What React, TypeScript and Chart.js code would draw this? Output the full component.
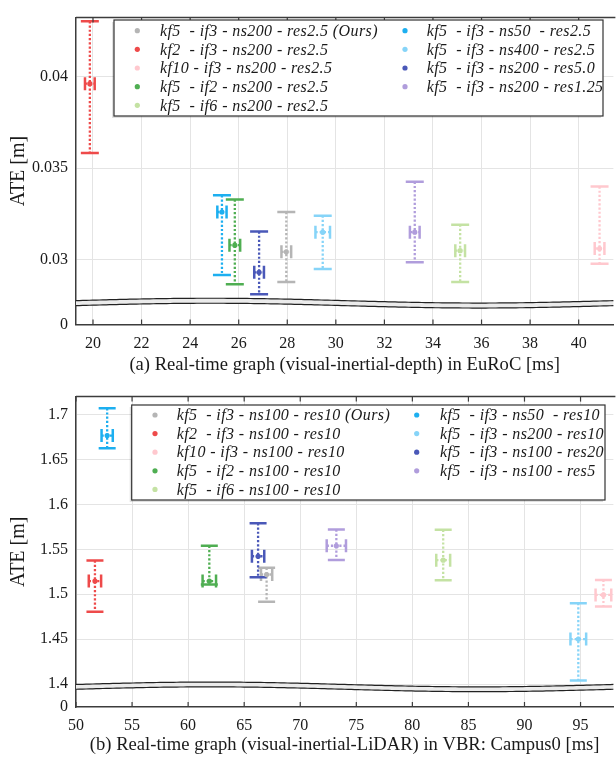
import React, { useEffect, useRef } from 'react';
import { Chart, registerables } from 'chart.js';

Chart.register(...registerables);

const SERIF = '"Liberation Serif", "Times New Roman", serif';
const GRID = '#e4e4e4';
const AXIS = '#3c3c3c';
const TEXT = '#1a1a1a';

// shared series colours (legend order)
const colors = ['#b5b5b5', '#ee4a4a', '#ffc8ce', '#4fae52', '#c4e2a3', '#1daff0', '#86d4f8', '#4a58b8', '#b09ddc'];

// ---------------- (a) EuRoC ----------------
const labelsA = [
  'kf5  - if3 - ns200 - res2.5 (Ours)',
  'kf2  - if3 - ns200 - res2.5',
  'kf10 - if3 - ns200 - res2.5',
  'kf5  - if2 - ns200 - res2.5',
  'kf5  - if6 - ns200 - res2.5',
  'kf5  - if3 - ns50  - res2.5',
  'kf5  - if3 - ns400 - res2.5',
  'kf5  - if3 - ns200 - res5.0',
  'kf5  - if3 - ns200 - res1.25',
];
const timeA = [27.96, 19.87, 40.86, 25.84, 35.12, 25.31, 29.46, 26.84, 33.25];
const timeErrA = [0.2, 0.2, 0.2, 0.22, 0.2, 0.19, 0.3, 0.2, 0.2];
const ateA = [0.03044, 0.0396, 0.03062, 0.0308, 0.0305, 0.03261, 0.03151, 0.02932, 0.03151];
const ateLowA = [0.02879, 0.03583, 0.02979, 0.02867, 0.02879, 0.02918, 0.0295, 0.02813, 0.02987];
const ateHighA = [0.03261, 0.043, 0.034, 0.03329, 0.03192, 0.03352, 0.03241, 0.03155, 0.03426];
const xTicksA = [20, 22, 24, 26, 28, 30, 32, 34, 36, 38, 40];
const yTicksA = [0.03, 0.035, 0.04];
const yTickLabelsA = ['0.03', '0.035', '0.04'];
const xRangeA = [19.3, 41.43];
const yRangeA = [0.02648, 0.0432];
const breakA = 0.027644;
const xTitleA = '(a) Real-time graph (visual-inertial-depth) in EuRoC [ms]';

// ---------------- (b) VBR Campus0 ----------------
const labelsB = [
  'kf5  - if3 - ns100 - res10 (Ours)',
  'kf2  - if3 - ns100 - res10',
  'kf10 - if3 - ns100 - res10',
  'kf5  - if2 - ns100 - res10',
  'kf5  - if6 - ns100 - res10',
  'kf5  - if3 - ns50  - res10',
  'kf5  - if3 - ns200 - res10',
  'kf5  - if3 - ns100 - res20',
  'kf5  - if3 - ns100 - res5',
];
const timeB = [67.0, 51.69, 97.04, 61.89, 82.75, 52.78, 94.8, 66.24, 73.22];
const timeErrB = [0.5, 0.55, 0.7, 0.6, 0.62, 0.5, 0.7, 0.55, 0.86];
const ateB = [1.522, 1.5147, 1.4993, 1.5147, 1.5379, 1.6765, 1.4502, 1.5423, 1.554];
const ateLowB = [1.4916, 1.4805, 1.4863, 1.511, 1.5155, 1.6625, 1.404, 1.519, 1.5382];
const ateHighB = [1.5294, 1.5375, 1.516, 1.554, 1.5717, 1.707, 1.4901, 1.579, 1.572];
const xTicksB = [50, 55, 60, 65, 70, 75, 80, 85, 90, 95];
const yTicksB = [1.4, 1.45, 1.5, 1.55, 1.6, 1.65, 1.7];
const yTickLabelsB = ['1.4', '1.45', '1.5', '1.55', '1.6', '1.65', '1.7'];
const xRangeB = [50, 97.93];
const yRangeB = [1.3746, 1.7199];
const breakB = 1.397;
const xTitleB = '(b) Real-time graph (visual-inertial-LiDAR) in VBR: Campus0 [ms]';

const yTitle = 'ATE [m]';
const zeroLabel = '0';

function line(ctx: CanvasRenderingContext2D, x1: number, y1: number, x2: number, y2: number) {
  ctx.beginPath();
  ctx.moveTo(x1, y1);
  ctx.lineTo(x2, y2);
  ctx.stroke();
}

const panelPlugin = {
  id: 'panel',
  beforeDatasetsDraw(chart: any, _args: any, opts: any) {
    const { ctx, chartArea: ca, scales } = chart;
    const xs = scales.x;
    const ys = scales.y;
    ctx.save();
    // broken-axis band
    const yc = ys.getPixelForValue(opts.breakValue);
    const N = 160;
    const up: number[][] = [];
    const lo: number[][] = [];
    for (let i = 0; i <= N; i++) {
      const t = i / N;
      const px = ca.left + t * (ca.right - ca.left);
      const py = yc - opts.waveAmp * Math.sin(2 * Math.PI * t);
      up.push([px, py - opts.bandHalf]);
      lo.push([px, py + opts.bandHalf]);
    }
    ctx.beginPath();
    up.forEach((p, i) => (i ? ctx.lineTo(p[0], p[1]) : ctx.moveTo(p[0], p[1])));
    for (let i = lo.length - 1; i >= 0; i--) ctx.lineTo(lo[i][0], lo[i][1]);
    ctx.closePath();
    ctx.fillStyle = '#ebebeb';
    ctx.fill();
    ctx.strokeStyle = '#222';
    ctx.lineWidth = 1.2;
    [up, lo].forEach((arr) => {
      ctx.beginPath();
      arr.forEach((p, i) => (i ? ctx.lineTo(p[0], p[1]) : ctx.moveTo(p[0], p[1])));
      ctx.stroke();
    });

    // error bars
    ctx.beginPath();
    ctx.rect(ca.left, ca.top, ca.right - ca.left, ca.bottom - ca.top);
    ctx.clip();
    ctx.lineCap = 'butt';
    chart.data.datasets.forEach((ds: any) => {
      const d = ds.data[0];
      const px = xs.getPixelForValue(d.x);
      const py = ys.getPixelForValue(d.y);
      const pHi = ys.getPixelForValue(d.yMax);
      const pLo = ys.getPixelForValue(d.yMin);
      const pL = xs.getPixelForValue(d.xMin);
      const pR = xs.getPixelForValue(d.xMax);
      ctx.strokeStyle = ds.borderColor;
      ctx.lineWidth = 2.3;
      ctx.setLineDash([2.2, 2]);
      line(ctx, px, pHi, px, pLo);
      line(ctx, pL, py, pR, py);
      ctx.setLineDash([]);
      ctx.lineWidth = 2.5;
      line(ctx, px - opts.capY, pHi, px + opts.capY, pHi);
      line(ctx, px - opts.capY, pLo, px + opts.capY, pLo);
      line(ctx, pL, py - opts.capX, pL, py + opts.capX);
      line(ctx, pR, py - opts.capX, pR, py + opts.capX);
    });
    ctx.restore();
  },
  afterDraw(chart: any, _args: any, opts: any) {
    const { ctx, chartArea: ca, scales } = chart;
    ctx.save();
    // top border and inward ticks
    ctx.strokeStyle = AXIS;
    ctx.lineWidth = 1.5;
    line(ctx, ca.left, ca.top, ca.right + 2, ca.top);
    ctx.lineWidth = 1.2;
    scales.x.ticks.forEach((t: any) => {
      const px = scales.x.getPixelForValue(t.value);
      line(ctx, px, ca.bottom, px, ca.bottom - 5);
      line(ctx, px, ca.top, px, ca.top + 5);
    });

    // legend
    const L = opts.legend;
    ctx.fillStyle = 'rgba(0,0,0,0.12)';
    ctx.fillRect(L.x - 2, L.y + 2, L.w, L.h);
    ctx.fillStyle = '#fff';
    ctx.fillRect(L.x, L.y, L.w, L.h);
    ctx.strokeStyle = '#333';
    ctx.lineWidth = 1.2;
    ctx.strokeRect(L.x, L.y, L.w, L.h);
    ctx.font = `italic 16px ${SERIF}`;
    (ctx as any).letterSpacing = '0.4px';
    ctx.textBaseline = 'middle';
    ctx.textAlign = 'left';
    chart.data.datasets.forEach((ds: any, i: number) => {
      const col = i < L.split ? 0 : 1;
      const row = col ? i - L.split : i;
      const cy = L.rowY + row * L.rowStep;
      const dx = col ? L.dot2 : L.dot1;
      const tx = col ? L.text2 : L.text1;
      ctx.fillStyle = ds.backgroundColor;
      ctx.beginPath();
      ctx.arc(dx, cy, 2.6, 0, Math.PI * 2);
      ctx.fill();
      ctx.fillStyle = TEXT;
      ctx.fillText(ds.label, tx, cy + 1);
    });
    ctx.restore();
  },
};

function buildConfig(c: any) {
  const datasets = c.labels.map((label: string, i: number) => ({
    label,
    data: [
      {
        x: c.time[i],
        y: c.ate[i],
        xMin: c.time[i] - c.timeErr[i],
        xMax: c.time[i] + c.timeErr[i],
        yMin: c.ateLow[i],
        yMax: c.ateHigh[i],
      },
    ],
    backgroundColor: colors[i],
    borderColor: colors[i],
    pointRadius: 2.6,
    pointHoverRadius: 2.6,
    pointBorderWidth: 0,
  }));
  return {
    type: 'scatter',
    data: { datasets },
    options: {
      responsive: false,
      animation: false,
      devicePixelRatio: 1,
      events: [],
      layout: { padding: { top: c.padTop, left: 0, right: 0, bottom: 0 } },
      plugins: {
        legend: { display: false },
        tooltip: { enabled: false },
        panel: c.panel,
      },
      scales: {
        x: {
          type: 'linear',
          min: c.xRange[0],
          max: c.xRange[1],
          afterBuildTicks: (s: any) => {
            s.ticks = c.xTicks.map((v: number) => ({ value: v }));
          },
          afterFit: (s: any) => {
            s.height = c.xAxisHeight;
          },
          grid: { color: GRID, lineWidth: 1, drawTicks: false },
          border: { color: AXIS, width: 1.5 },
          ticks: {
            font: { family: SERIF, size: 16 },
            color: TEXT,
            padding: c.xTickPad,
            maxRotation: 0,
            autoSkip: false,
            callback: (v: number) => String(v),
          },
          title: {
            display: true,
            text: c.xTitle,
            font: { family: SERIF, size: 18.6 },
            color: TEXT,
            padding: { top: 2, bottom: c.xTitlePad },
          },
        },
        y: {
          type: 'linear',
          min: c.yRange[0],
          max: c.yRange[1],
          afterBuildTicks: (s: any) => {
            s.ticks = [{ value: c.yRange[0] }, ...c.yTicks.map((v: number) => ({ value: v }))];
          },
          afterFit: (s: any) => {
            s.width = 76;
          },
          grid: {
            color: (ctx: any) => (ctx.tick && ctx.tick.value === c.yRange[0] ? 'rgba(0,0,0,0)' : GRID),
            lineWidth: 1,
            drawTicks: false,
          },
          border: { color: AXIS, width: 1.5 },
          ticks: {
            font: { family: SERIF, size: 16 },
            color: TEXT,
            padding: 8,
            autoSkip: false,
            callback: (v: number) => {
              if (v === c.yRange[0]) return zeroLabel;
              const k = c.yTicks.indexOf(v);
              return k >= 0 ? c.yTickLabels[k] : '';
            },
          },
          title: {
            display: true,
            text: yTitle,
            font: { family: SERIF, size: 20 },
            color: TEXT,
            padding: { top: 7, bottom: 0 },
          },
        },
      },
    },
    plugins: [panelPlugin],
  };
}

const cfgA = {
  labels: labelsA, time: timeA, timeErr: timeErrA, ate: ateA, ateLow: ateLowA, ateHigh: ateHighA,
  xTicks: xTicksA, yTicks: yTicksA, yTickLabels: yTickLabelsA, xRange: xRangeA, yRange: yRangeA,
  xTitle: xTitleA, padTop: 10.7, xAxisHeight: 54.5, xTitlePad: 2.8, xTickPad: 10,
  panel: {
    breakValue: breakA, waveAmp: 2.4, bandHalf: 2.5, capY: 9, capX: 6.5,
    legend: { x: 114, y: 20, w: 489, h: 96, split: 5, rowY: 30.7, rowStep: 18.65, dot1: 137.3, text1: 160, dot2: 405, text2: 426.7 },
  },
};

const cfgB = {
  labels: labelsB, time: timeB, timeErr: timeErrB, ate: ateB, ateLow: ateLowB, ateHigh: ateHighB,
  xTicks: xTicksB, yTicks: yTicksB, yTickLabels: yTickLabelsB, xRange: xRangeB, yRange: yRangeB,
  xTitle: xTitleB, padTop: 15, xAxisHeight: 50, xTitlePad: 0.8, xTickPad: 9,
  panel: {
    breakValue: breakB, waveAmp: 2.4, bandHalf: 2.4, capY: 8.5, capX: 6.5,
    legend: { x: 131.7, y: 26, w: 473.3, h: 95, split: 5, rowY: 36, rowStep: 18.6, dot1: 155, text1: 176.7, dot2: 416.7, text2: 440 },
  },
};

function Panel({ cfg, top, height }: { cfg: any; top: number; height: number }) {
  const ref = useRef<HTMLCanvasElement>(null);
  useEffect(() => {
    const chart = new Chart(ref.current as HTMLCanvasElement, buildConfig(cfg) as any);
    return () => chart.destroy();
  }, [cfg]);
  return (
    <div style={{ position: 'absolute', left: 0, top, width: 616, height }}>
      <canvas ref={ref} width={616} height={height} style={{ display: 'block', width: 616, height }} />
    </div>
  );
}

export default function App() {
  return (
    <div style={{ position: 'absolute', left: 0, top: 0, width: 616, height: 757, background: '#fff', overflow: 'hidden' }}>
      <Panel cfg={cfgA} top={0} height={379} />
      <Panel cfg={cfgB} top={379} height={378} />
    </div>
  );
}
